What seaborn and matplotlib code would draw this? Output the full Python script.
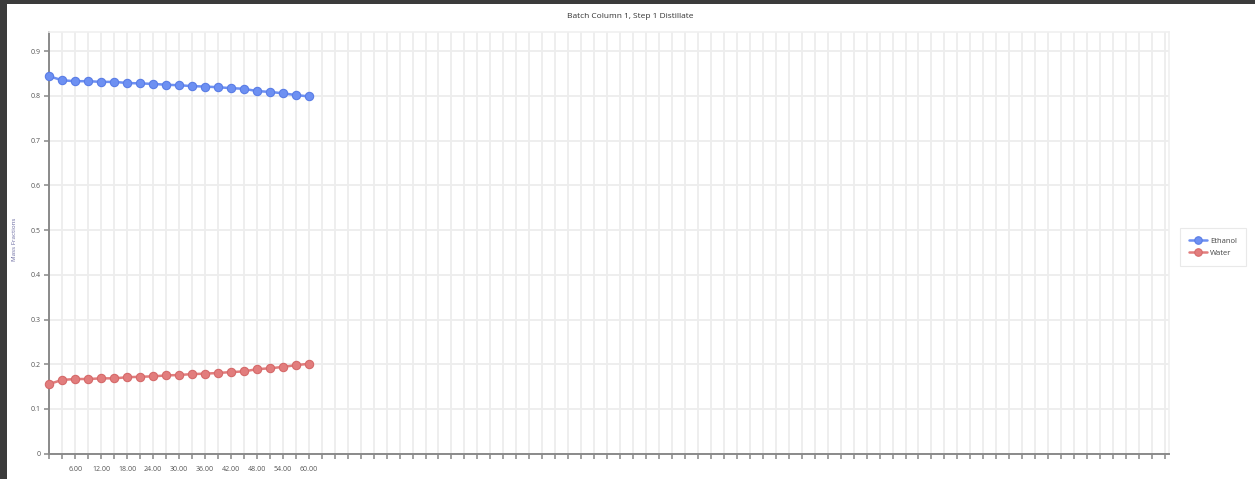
import numpy as np
import pandas as pd
import matplotlib
matplotlib.use("Agg")
import matplotlib.pyplot as plt
from matplotlib.patches import Rectangle
import seaborn as sns

# Distillate composition over time (minutes)
time_min = [0, 3, 6, 9, 12, 15, 18, 21, 24, 27, 30, 33, 36, 39, 42, 45, 48, 51, 54, 57, 60]
ethanol = [0.844, 0.835, 0.833, 0.833, 0.8315, 0.8315, 0.829, 0.828, 0.827, 0.825, 0.824,
           0.822, 0.821, 0.8195, 0.8175, 0.816, 0.811, 0.809, 0.806, 0.802, 0.799]
water = [0.156, 0.165, 0.167, 0.167, 0.1685, 0.1685, 0.171, 0.172, 0.173, 0.175, 0.176,
         0.178, 0.179, 0.1805, 0.1825, 0.184, 0.189, 0.191, 0.194, 0.198, 0.201]
components = ["Ethanol", "Water"]
colors = {"Ethanol": "#6d90f2", "Water": "#e27d7d"}
edge_colors = {"Ethanol": "#5a7de6", "Water": "#d56a6a"}

title = "Batch Column 1, Step 1 Distillate"
y_label = "Mass Fractions"
y_ticks = [0, 0.1, 0.2, 0.3, 0.4, 0.5, 0.6, 0.7, 0.8, 0.9]
x_label_ticks = [6, 12, 18, 24, 30, 36, 42, 48, 54, 60]

df = pd.DataFrame({
    "Time": time_min * 2,
    "Fraction": ethanol + water,
    "Component": ["Ethanol"] * len(time_min) + ["Water"] * len(time_min),
})

sns.set_theme(style="white")
plt.rcParams["font.family"] = ["Open Sans", "DejaVu Sans"]

fig = plt.figure(figsize=(12.55, 4.79), dpi=100)
fig.patch.set_facecolor("white")

# dark window border along top and left edges
fig.patches.append(Rectangle((0, 1 - 4 / 479), 1, 4 / 479, transform=fig.transFigure,
                             facecolor="#3b3b3b", edgecolor="none", zorder=10))
fig.patches.append(Rectangle((0, 0), 7 / 1255, 1, transform=fig.transFigure,
                             facecolor="#3b3b3b", edgecolor="none", zorder=10))

ax = fig.add_axes([49.3 / 1255, 25.3 / 479, 1120 / 1255, 421.7 / 479])

for comp in components:
    sub = df[df["Component"] == comp]
    sns.lineplot(data=sub, x="Time", y="Fraction", ax=ax, color=colors[comp],
                 marker="o", markersize=6, markeredgecolor=edge_colors[comp],
                 markeredgewidth=0.8, linewidth=1.8, label=comp, zorder=3, clip_on=False)

ax.set_xlim(0, 259)
ax.set_ylim(0, 0.943)

major_x = np.arange(0, 259, 3)
ax.set_xticks(major_x)
ax.set_xticklabels([f"{v:.2f}" if v in x_label_ticks else "" for v in major_x])
ax.set_yticks(y_ticks)
ax.set_yticklabels(["0"] + [f"{v:.1f}" for v in y_ticks[1:]])

ax.grid(True, color="#ededed", linewidth=1.3, zorder=0)
ax.set_axisbelow(True)

ax.tick_params(axis="both", direction="out", length=3.5, width=1.1, color="#888888",
               labelsize=5, labelcolor="#555555", pad=3)
ax.tick_params(axis="x", pad=5)
ax.xaxis.set_ticks_position("bottom")
ax.yaxis.set_ticks_position("left")

for side in ["left", "bottom"]:
    ax.spines[side].set_color("#8a8a8a")
    ax.spines[side].set_linewidth(1.4)
for side in ["top", "right"]:
    ax.spines[side].set_color("#f0f0f0")
    ax.spines[side].set_linewidth(1.2)

ax.set_xlabel("")
ax.set_ylabel("")
fig.text(14 / 1255, 0.5, y_label, rotation=90, fontsize=4.5, color="#6a6aa0",
         ha="center", va="center")
fig.text(630 / 1255, 1 - 16 / 479, title, fontsize=6, color="#333333",
         ha="center", va="center")

leg = ax.legend(loc="center left", bbox_to_anchor=(1.008, 0.49), fontsize=5.5,
                frameon=True, handlelength=2.4, borderpad=0.9, labelspacing=0.6,
                handletextpad=0.4, markerscale=0.9)
leg.get_frame().set_edgecolor("#e4e4e4")
leg.get_frame().set_linewidth(0.8)
leg.get_frame().set_boxstyle("square")
for t in leg.get_texts():
    t.set_color("#444444")

fig.savefig("out.png", dpi=100)
